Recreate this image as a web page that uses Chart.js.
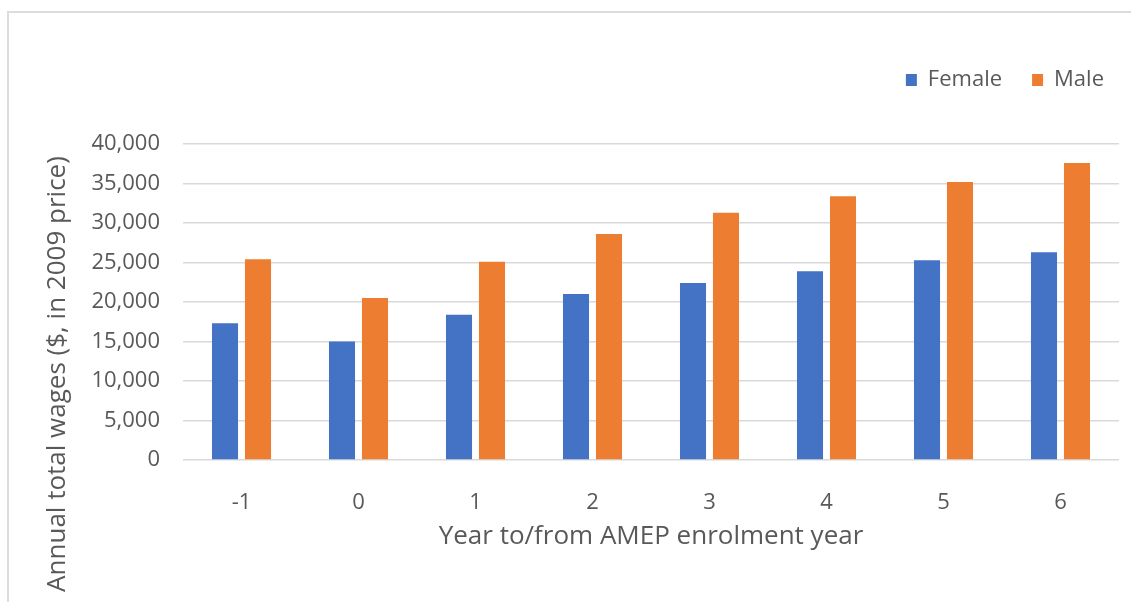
<!DOCTYPE html>
<html>
<head>
<meta charset="utf-8">
<script src="https://cdn.jsdelivr.net/npm/chart.js@4.4.1/dist/chart.umd.min.js"></script>
<style>
  html, body { margin: 0; padding: 0; background: #ffffff; overflow: hidden; }
  #frame {
    position: absolute; left: 7px; top: 11px; width: 1400px; height: 800px;
    border-left: 2px solid #dcdcdc; border-top: 2px solid #dcdcdc;
  }
  #wrap { position: absolute; left: 0; top: 0; width: 1131px; height: 602px; }
</style>
</head>
<body>
<div id="frame"></div>
<div id="wrap"><canvas id="chart"></canvas></div>
<script>
// Years relative to the AMEP enrolment year
const years = ['-1', '0', '1', '2', '3', '4', '5', '6'];

// Annual total wages, $ in 2009 prices
const femaleWages = [17300, 15000, 18400, 21000, 22400, 23900, 25300, 26300];
const maleWages   = [25400, 20500, 25100, 28600, 31300, 33400, 35200, 37600];

const seriesNames = ['Female', 'Male'];
const yAxisTitle = 'Annual total wages ($, in 2009 price)';
const xAxisTitle = 'Year to/from AMEP enrolment year';

const textColor = '#595959';
const fontFamily = '"Open Sans", "Liberation Sans", sans-serif';

// Extra room under the legend, and the legend row pushed a little to the right
const legendSpacing = {
  id: 'legendSpacing',
  beforeInit(chart, args, opts) {
    const legend = chart.legend;
    const fit = legend.fit;
    legend.fit = function () {
      fit.call(this);
      this.height += opts.extraHeight;
    };
  },
  afterLayout(chart, args, opts) {
    chart.legend.left += opts.shiftRight;
    chart.legend.right += opts.shiftRight;
  }
};

// Rotated caption for the value axis
const valueCaption = {
  id: 'valueCaption',
  afterDraw(chart, args, opts) {
    const ctx = chart.ctx;
    ctx.save();
    ctx.translate(opts.x, opts.y);
    ctx.rotate(-Math.PI / 2);
    ctx.font = opts.size + 'px ' + fontFamily;
    ctx.fillStyle = textColor;
    ctx.textAlign = 'center';
    ctx.textBaseline = 'alphabetic';
    ctx.fillText(opts.text, 0, 0);
    ctx.restore();
  }
};

new Chart(document.getElementById('chart'), {
  type: 'bar',
  data: {
    labels: years,
    datasets: [
      { label: seriesNames[0], data: femaleWages, backgroundColor: '#4472C4' },
      { label: seriesNames[1], data: maleWages, backgroundColor: '#ED7D31' }
    ]
  },
  plugins: [legendSpacing, valueCaption],
  options: {
    responsive: true,
    maintainAspectRatio: false,
    devicePixelRatio: 1,
    animation: false,
    locale: 'en-US',
    layout: { padding: { top: 39, right: 12, bottom: 0, left: 0 } },
    datasets: {
      bar: { categoryPercentage: 0.564, barPercentage: 0.79 }
    },
    plugins: {
      legend: {
        position: 'top',
        align: 'end',
        labels: {
          boxWidth: 11,
          boxHeight: 12,
          padding: 30,
          color: textColor,
          font: { family: fontFamily, size: 22 }
        }
      },
      tooltip: { enabled: false },
      legendSpacing: { extraHeight: 43, shiftRight: 15 },
      valueCaption: { text: yAxisTitle, x: 65, y: 374, size: 26 }
    },
    scales: {
      x: {
        grid: { display: false },
        border: { display: false },
        ticks: {
          padding: 22,
          color: textColor,
          font: { family: fontFamily, size: 22 }
        },
        title: {
          display: true,
          text: xAxisTitle,
          color: textColor,
          font: { family: fontFamily, size: 26 },
          padding: { top: 0, bottom: 50 }
        },
        afterFit(scale) { scale.height = 142; }
      },
      y: {
        min: 0,
        max: 40000,
        grid: { color: '#d9d9d9', lineWidth: 1.5, drawTicks: false },
        border: { display: false },
        ticks: {
          stepSize: 5000,
          padding: 23,
          color: textColor,
          font: { family: fontFamily, size: 22 }
        },
        afterFit(scale) { scale.width = 183; }
      }
    }
  }
});
</script>
</body>
</html>
